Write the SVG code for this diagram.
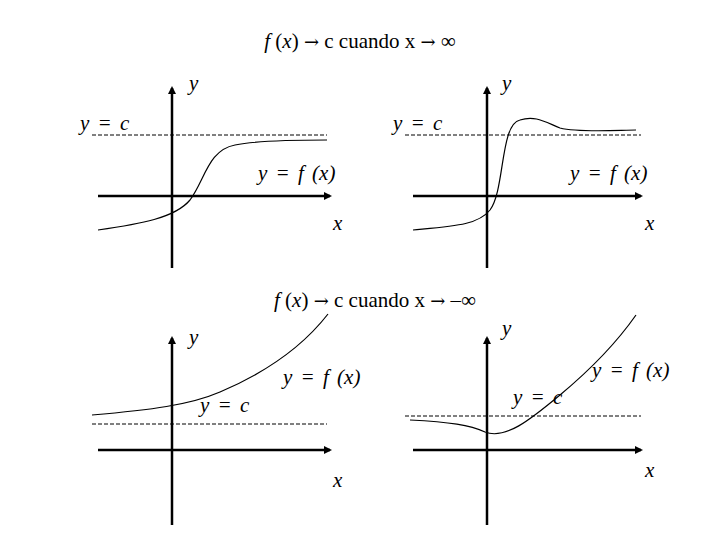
<svg xmlns="http://www.w3.org/2000/svg" width="720" height="540" viewBox="0 0 720 540">
<style>
text{font-family:"Liberation Serif",serif;font-size:21px;fill:#000}
.i{font-style:italic;word-spacing:3px}
.ar{font-family:"DejaVu Serif",serif;font-size:18px}
.ax{stroke:#000;stroke-width:2.5;fill:none;marker-end:url(#ah)}
.d{stroke:#000;stroke-width:1;stroke-dasharray:4 2;fill:none}
.c{stroke:#000;stroke-width:1.2;fill:none}
</style>
<defs><marker id="ah" markerWidth="8" markerHeight="8" refX="6" refY="4" orient="auto" markerUnits="userSpaceOnUse"><path d="M0,0L8,4L0,8z" fill="#000"/></marker></defs>
<rect width="720" height="540" fill="#fff"/>
<text x="360" y="48" text-anchor="middle"><tspan class="i">f</tspan> (<tspan class="i">x</tspan>) <tspan class="ar">→</tspan> c cuando x <tspan class="ar">→</tspan> ∞</text>
<text x="375" y="307" text-anchor="middle"><tspan class="i">f</tspan> (<tspan class="i">x</tspan>) <tspan class="ar">→</tspan> c cuando x <tspan class="ar">→</tspan> –∞</text>
<g id="connectors">
<path class="ax" d="M172,268V88"/><path class="ax" d="M98,196H330"/>
<path class="ax" d="M487,268V88"/><path class="ax" d="M413,196H641"/>
<path class="ax" d="M172,525V338"/><path class="ax" d="M98,450H330"/>
<path class="ax" d="M487,525V338"/><path class="ax" d="M413,450H641"/>
</g>
<g id="tl">
<path class="d" d="M92,135H327"/>
<path class="c" d="M98,230C140,224 175,218 190,200C205,180 208,150 235,145C260,140 300,140 327,140"/>
<text class="i" x="189" y="90">y</text><text class="i" x="80" y="130">y = c</text>
<text class="i" x="258" y="180">y = f (x)</text><text class="i" x="333" y="230">x</text>
</g>
<g id="tr">
<path class="d" d="M405,135H641"/>
<path class="c" d="M413,230C455,226 478,225 490,210C505,190 500,124 520,120C535,115 545,122 560,128C580,133 620,130 636,130"/>
<text class="i" x="502" y="90">y</text><text class="i" x="393" y="130">y = c</text>
<text class="i" x="570" y="180">y = f (x)</text><text class="i" x="645" y="230">x</text>
</g>
<g id="bl">
<path class="d" d="M92,424H327"/>
<path class="c" d="M92,415C150,410 190,405 220,392C260,375 300,350 328,314"/>
<text class="i" x="189" y="344">y</text><text class="i" x="200" y="412">y = c</text>
<text class="i" x="283" y="384">y = f (x)</text><text class="i" x="333" y="487">x</text>
</g>
<g id="br">
<path class="d" d="M405,416H641"/>
<path class="c" d="M410,420C450,422 470,425 485,432C505,440 530,420 560,395C590,370 615,345 636,315"/>
<text class="i" x="502" y="335">y</text><text class="i" x="513" y="404">y = c</text>
<text class="i" x="592" y="377">y = f (x)</text><text class="i" x="645" y="477">x</text>
</g>
</svg>
